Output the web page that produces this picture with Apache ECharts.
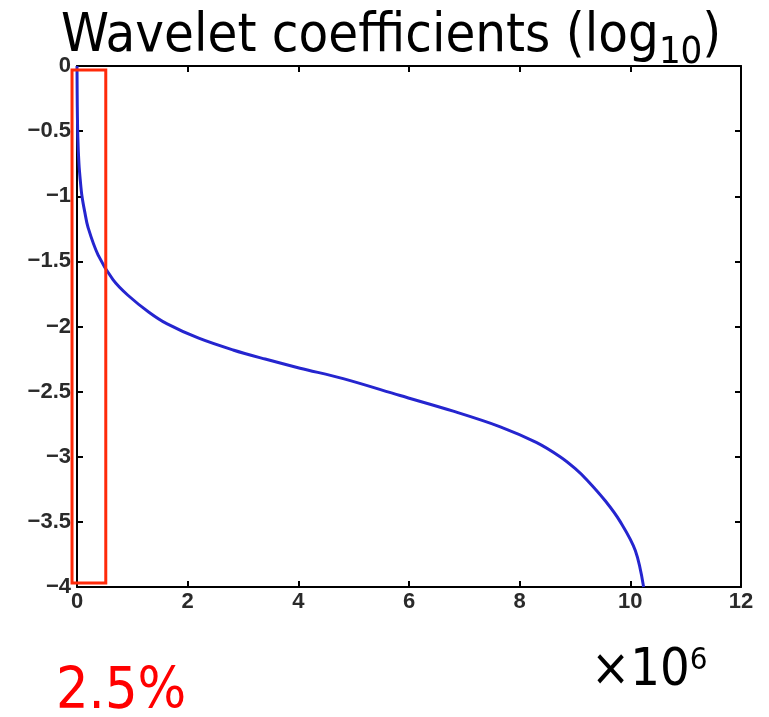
<!DOCTYPE html>
<html>
<head>
<meta charset="utf-8">
<script src="https://cdn.jsdelivr.net/npm/echarts@6/dist/echarts.min.js"></script>
<style>
  html, body { margin: 0; padding: 0; background: #fff; }
  #chart { width: 769px; height: 717px; }
</style>
</head>
<body>
<div id="chart"></div>
<script>
// sorted coefficient index (x 10^6) vs log10 magnitude
var coefIndex = [0, 0.005, 0.015, 0.035, 0.06, 0.09, 0.14, 0.2, 0.38, 0.65, 0.92, 1.3, 1.63, 2.2, 2.82, 3.4, 4.03, 4.81, 5.84, 6.8, 7.65, 8.3, 8.73, 9.0, 9.22, 9.55, 9.82, 10.09, 10.24];
var coefLog = [0, -0.3, -0.55, -0.75, -0.88, -1.0, -1.12, -1.24, -1.45, -1.64, -1.76, -1.89, -1.98, -2.09, -2.18, -2.25, -2.32, -2.4, -2.53, -2.65, -2.77, -2.89, -3.0, -3.09, -3.18, -3.34, -3.5, -3.72, -4.0];
// highlighted region (first 2.5% of coefficients)
var boxX = [-0.09, 0.52];
var boxY = [-0.03, -3.97];

var points = coefIndex.map(function (x, i) { return [x, coefLog[i]]; });

var tickFont = {
    fontFamily: 'Liberation Sans',
    fontWeight: 'bold',
    fontSize: 22,
    color: '#2a2a2a'
};

var axisBase = {
    type: 'value',
    axisLine: { show: true, onZero: false, lineStyle: { color: '#000', width: 2 } },
    axisTick: { inside: true, length: 6, lineStyle: { color: '#000', width: 2 } },
    splitLine: { show: false }
};

var option = {
    backgroundColor: '#fff',
    animation: false,
    title: {
        text: '{a|Wavelet coefficients (log}{s|10}{a|)}',
        left: 56,
        top: 5,
        textStyle: {
            fontWeight: 'normal',
            rich: {
                a: { fontFamily: 'DejaVu Sans Condensed', fontWeight: 'normal', fontSize: 54, color: '#000', verticalAlign: 'top', lineHeight: 54 },
                s: { fontFamily: 'DejaVu Sans Condensed', fontWeight: 'normal', fontSize: 38, color: '#000', verticalAlign: 'top', lineHeight: 38, padding: [24, 0, 0, 0] }
            }
        }
    },
    grid: {
        left: 77,
        right: 28,
        top: 66,
        bottom: 130
    },
    xAxis: [
        Object.assign({}, axisBase, {
            min: 0, max: 12, interval: 2,
            axisLabel: Object.assign({ margin: 4 }, tickFont)
        }),
        Object.assign({}, axisBase, {
            position: 'top',
            min: 0, max: 12, interval: 2,
            axisLabel: { show: false }
        })
    ],
    yAxis: [
        Object.assign({}, axisBase, {
            min: -4, max: 0, interval: 0.5,
            axisLabel: Object.assign({
                margin: 6,
                formatter: function (v) { return v === 0 ? '0' : String(v).replace('-', '\u2212'); }
            }, tickFont)
        }),
        Object.assign({}, axisBase, {
            position: 'right',
            min: -4, max: 0, interval: 0.5,
            axisLabel: { show: false }
        })
    ],
    series: [
        {
            type: 'line',
            data: points,
            smooth: 0.35,
            showSymbol: false,
            lineStyle: { color: '#2525cf', width: 3 }
        }
    ],
    graphic: [
        {
            type: 'text',
            left: 591,
            top: 645,
            style: {
                text: '{a|\u00d710}{s|6}',
                rich: {
                    a: { fontFamily: 'DejaVu Sans Condensed', fontSize: 52, fill: '#000', verticalAlign: 'top', lineHeight: 52 },
                    s: { fontFamily: 'DejaVu Sans Condensed', fontSize: 31, fill: '#000', verticalAlign: 'top', lineHeight: 31 }
                }
            }
        },
        {
            type: 'text',
            left: 56,
            top: 665,
            style: {
                text: '2.5%',
                fontFamily: 'DejaVu Sans Condensed',
                fontSize: 57,
                lineHeight: 57,
                fill: '#ff0000'
            }
        }
    ]
};

var chart = echarts.init(document.getElementById('chart'));
chart.setOption(option);

// red box marking the first 2.5% of coefficients, placed through the axes
var p0 = chart.convertToPixel({ gridIndex: 0 }, [boxX[0], boxY[0]]);
var p1 = chart.convertToPixel({ gridIndex: 0 }, [boxX[1], boxY[1]]);
chart.setOption({
    graphic: option.graphic.concat([{
        type: 'rect',
        shape: { x: p0[0], y: p0[1], width: p1[0] - p0[0], height: p1[1] - p0[1] },
        style: { fill: 'none', stroke: '#ff2a0a', lineWidth: 3 },
        z: 10
    }])
});
</script>
</body>
</html>
